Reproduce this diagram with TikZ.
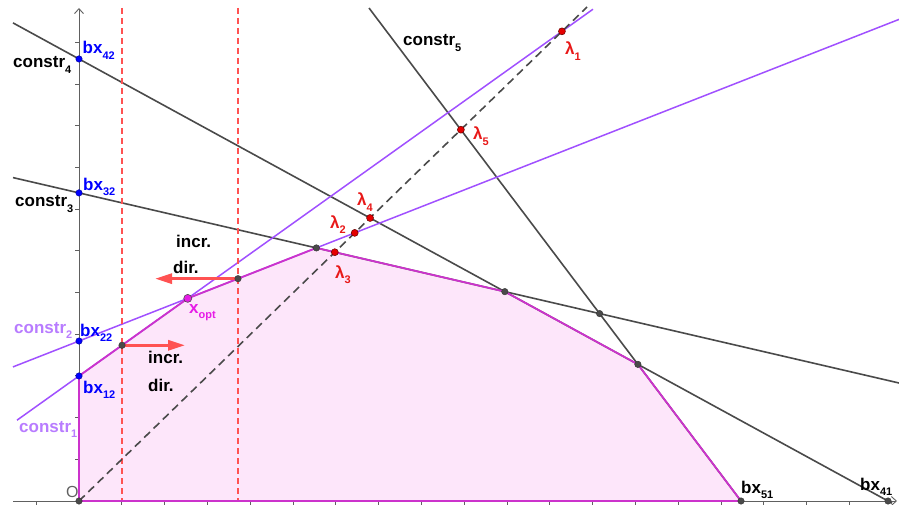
\documentclass[tikz,border=0pt]{standalone}
\usepackage{fontspec}
\setmainfont{Liberation Sans}
\usetikzlibrary{arrows.meta,calc}
\definecolor{cgray}{HTML}{4A4A4A}
\definecolor{caxis}{HTML}{606060}
\definecolor{cpurple}{HTML}{A050FF}
\definecolor{clabpurple}{HTML}{B87CFF}
\definecolor{cmag}{HTML}{CC33CC}
\definecolor{cfill}{HTML}{FDE6FA}
\definecolor{cred}{HTML}{FF5252}
\definecolor{clam}{HTML}{E81818}
\definecolor{cblue}{HTML}{0000FF}
\definecolor{cxopt}{HTML}{E61CE6}
\newcommand{\sbs}[1]{\raisebox{-5.5pt}{\fontsize{11}{11}\selectfont #1}}
\begin{document}
\begin{tikzpicture}[x=1pt,y=-1pt,
  conline/.style={cgray,line width=1.6pt},
  purpline/.style={cpurple,line width=1.5pt},
  polyedge/.style={cmag,line width=1.8pt,line join=round},
  reddash/.style={cred,line width=1.6pt,dash pattern=on 6pt off 4pt},
  blackdash/.style={cgray,line width=1.6pt,dash pattern=on 8pt off 5pt},
  axisline/.style={caxis,line width=0.9pt},
  axisarrow/.style={caxis,line width=0.9pt,-{Straight Barb[length=5pt,width=9pt]}},
  redarrow/.style={cred,line width=3pt,-{Triangle[length=17pt,width=10pt]}},
  bdot/.style={circle,inner sep=0pt,minimum size=6.5pt,fill=cgray,draw=black!80,line width=0.4pt},
  bldot/.style={circle,inner sep=0pt,minimum size=6.5pt,fill=cblue,draw=blue!60!black,line width=0.4pt},
  rdot/.style={circle,inner sep=0pt,minimum size=7pt,fill=red!90!black,draw=red!40!black,line width=0.5pt},
  mdot/.style={circle,inner sep=0pt,minimum size=8pt,fill=cxopt,draw=black!70,line width=0.6pt},
  lab/.style={font=\fontsize{17}{17}\selectfont\bfseries,inner sep=0pt,anchor=base west},
]
\useasboundingbox (0,0) rectangle (899,505);

% base coordinates
\coordinate (O) at (79,501);
\coordinate (ytop) at (79,8);
\coordinate (xl) at (13,501);
\coordinate (xr) at (897,501);
\coordinate (c4a) at (13,22.9);
\coordinate (c4b) at (892,503.2);
\coordinate (c3a) at (13,177.6);
\coordinate (c3b) at (899,383);
\coordinate (c5a) at (369,8);
\coordinate (c5b) at (741,501);
\coordinate (c1a) at (17,420.2);
\coordinate (c1b) at (593,9.2);
\coordinate (c2a) at (13,366.9);
\coordinate (c2b) at (899,19.4);
\coordinate (de) at (587,7);
\coordinate (v1t) at (122,8);
\coordinate (v1b) at (122,501);
\coordinate (v2t) at (238,8);
\coordinate (v2b) at (238,501);

% derived points
\coordinate (bx42) at (intersection of c4a--c4b and O--ytop);
\coordinate (bx32) at (intersection of c3a--c3b and O--ytop);
\coordinate (bx22) at (intersection of c2a--c2b and O--ytop);
\coordinate (bx12) at (intersection of c1a--c1b and O--ytop);
\coordinate (bx41) at (888,501);
\coordinate (bx51) at (741,501);
\coordinate (P1) at (intersection of c1a--c1b and v1t--v1b);
\coordinate (xopt) at (intersection of c1a--c1b and c2a--c2b);
\coordinate (P2) at (intersection of c2a--c2b and v2t--v2b);
\coordinate (P3) at (intersection of c2a--c2b and c3a--c3b);
\coordinate (P4) at (intersection of c3a--c3b and c4a--c4b);
\coordinate (P5) at (intersection of c3a--c3b and c5a--c5b);
\coordinate (P6) at (intersection of c4a--c4b and c5a--c5b);
\coordinate (L1) at (intersection of O--de and c1a--c1b);
\coordinate (L2) at (intersection of O--de and c2a--c2b);
\coordinate (L3) at (intersection of O--de and c3a--c3b);
\coordinate (L4) at (intersection of O--de and c4a--c4b);
\coordinate (L5) at (intersection of O--de and c5a--c5b);
\coordinate (A1e) at ($(P2)+(-83,0)$);
\coordinate (A2e) at ($(P1)+(63,0)$);

% feasible region
\fill[cfill] (O) -- (bx12) -- (P1) -- (xopt) -- (P2) -- (P3) -- (P4) -- (P6) -- (bx51) -- cycle;

% axes
\draw[axisline] (xl) -- (O);
\draw[axisarrow] (O) -- (xr);
\draw[axisarrow] (O) -- (ytop);
\foreach \k in {-1,1,2,...,18} \draw[axisline] (79+42.8*\k,501) -- (79+42.8*\k,505);
\foreach \k in {1,...,11} \draw[axisline] (79,501-41.7*\k) -- (75,501-41.7*\k);

% constraint lines
\draw[conline] (c4a) -- (c4b);
\draw[conline] (c3a) -- (c3b);
\draw[conline] (c5a) -- (c5b);
\draw[purpline] (c1a) -- (c1b);
\draw[purpline] (c2a) -- (c2b);

% dashed lines
\draw[reddash] (v1t) -- (v1b);
\draw[reddash] (v2t) -- (v2b);
\draw[blackdash] (O) -- (de);

% region boundary
\draw[polyedge] (O) -- (bx12) -- (P1) -- (xopt) -- (P2) -- (P3) -- (P4) -- (P6) -- (bx51) -- cycle;

% increasing direction arrows
\draw[redarrow] (P2) -- (A1e);
\draw[redarrow] (P1) -- (A2e);

% points
\node[bdot] (nO) at (O) {};
\node[bdot] (nP1) at (P1) {};
\node[bdot] (nP2) at (P2) {};
\node[bdot] (nP3) at (P3) {};
\node[bdot] (nP4) at (P4) {};
\node[bdot] (nP5) at (P5) {};
\node[bdot] (nP6) at (P6) {};
\node[bdot] (nbx51) at (bx51) {};
\node[bdot] (nbx41) at (bx41) {};
\node[bldot] (nbx42) at (bx42) {};
\node[bldot] (nbx32) at (bx32) {};
\node[bldot] (nbx22) at (bx22) {};
\node[bldot] (nbx12) at (bx12) {};
\node[rdot] (nL1) at (L1) {};
\node[rdot] (nL2) at (L2) {};
\node[rdot] (nL3) at (L3) {};
\node[rdot] (nL4) at (L4) {};
\node[rdot] (nL5) at (L5) {};
\node[mdot] (nxopt) at (xopt) {};

% labels
\node[lab] (tc4) at (13,68) {constr\sbs{4}};
\node[lab] (tc3) at (15,207) {constr\sbs{3}};
\node[lab,clabpurple] (tc2) at (14,333) {constr\sbs{2}};
\node[lab,clabpurple] (tc1) at (19,432) {constr\sbs{1}};
\node[lab] (tc5) at (403,46) {constr\sbs{5}};
\node[lab,cblue] (tbx42) at (82.5,54) {bx\sbs{42}};
\node[lab,cblue] (tbx32) at (83,190) {bx\sbs{32}};
\node[lab,cblue] (tbx22) at (80,336) {bx\sbs{22}};
\node[lab,cblue] (tbx12) at (83,393) {bx\sbs{12}};
\node[lab] (tbx51) at (741,493) {bx\sbs{51}};
\node[lab] (tbx41) at (860,490) {bx\sbs{41}};
\node[inner sep=0pt,anchor=base west,font=\fontsize{16}{16}\selectfont,caxis] (tO) at (66,497) {O};
\node[lab,cxopt] (txopt) at (189,313) {x\sbs{opt}};
\node[lab,clam] (tL1) at (565,55) {λ\sbs{1}};
\node[lab,clam] (tL5) at (473,140) {λ\sbs{5}};
\node[lab,clam] (tL4) at (357,206) {λ\sbs{4}};
\node[lab,clam] (tL2) at (330,228) {λ\sbs{2}};
\node[lab,clam] (tL3) at (335,278) {λ\sbs{3}};
\node[lab] (tinc1) at (176,247) {incr.};
\node[lab] (tdir1) at (173,273) {dir.};
\node[lab] (tinc2) at (148,363) {incr.};
\node[lab] (tdir2) at (148,391) {dir.};
\end{tikzpicture}
\end{document}
